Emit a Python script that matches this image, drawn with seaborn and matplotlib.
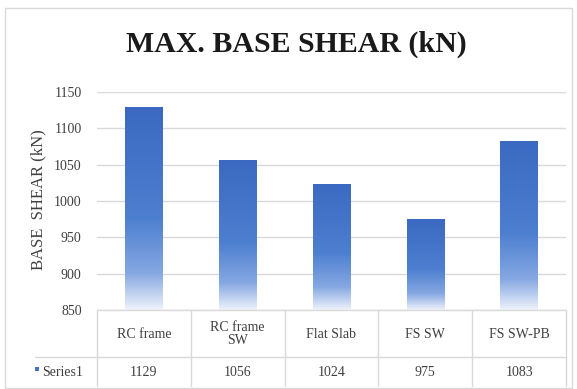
import numpy as np
import pandas as pd
import matplotlib
matplotlib.use("Agg")
import matplotlib.pyplot as plt
import matplotlib.transforms as mtransforms
from matplotlib.colors import LinearSegmentedColormap
from matplotlib.patches import Rectangle
import seaborn as sns

# Data
categories = ["RC frame", "RC frame\nSW", "Flat Slab", "FS SW", "FS SW-PB"]
series_name = "Series1"
base_shear = [1129, 1056, 1024, 975, 1083]
y_ticks = [850, 900, 950, 1000, 1050, 1100, 1150]

sns.set_theme(style="white")
plt.rcParams["font.family"] = ["Liberation Serif", "DejaVu Serif"]

W, H = 577, 389
fig = plt.figure(figsize=(W / 100, H / 100), dpi=100)

# outer chart border
fig.patches.append(Rectangle((5 / W, 1 - 388 / H), 567 / W, 380 / H,
                             transform=fig.transFigure, fill=False,
                             edgecolor="#d9d9d9", linewidth=1.0))

left, right, top, bottom = 97, 566, 92, 310
ax = fig.add_axes([left / W, 1 - bottom / H, (right - left) / W, (bottom - top) / H])

df = pd.DataFrame({"category": categories, "value": base_shear})
sns.barplot(data=df, x="category", y="value", ax=ax, width=0.4,
            color="#4472c4", saturation=1)

ax.set_ylim(850, 1150)
ax.set_xlim(-0.5, len(categories) - 0.5)
ax.set_yticks(y_ticks)
ax.set_yticklabels([str(t) for t in y_ticks], fontsize=10, color="#404040")
ax.tick_params(axis="y", length=0, pad=11)
ax.set_xticks([])
ax.set_xlabel("")
ax.set_ylabel("")
for s in ax.spines.values():
    s.set_visible(False)
ax.yaxis.grid(True, color="#d9d9d9", linewidth=1.0)
ax.set_axisbelow(True)

fig.text(38 / W, 1 - 200 / H, "BASE  SHEAR (kN)", rotation=90, ha="center",
         va="center", fontsize=12, color="#404040")

# vertical gradient fill for each bar
cmap = LinearSegmentedColormap.from_list(
    "bar_grad",
    [(0.0, "#3b69c1"), (0.55, "#4d7fd0"), (0.82, "#86a8e2"), (1.0, "#eef2fb")])
grad = np.linspace(0, 1, 256).reshape(-1, 1)
for patch in ax.patches:
    x0, y0 = patch.get_x(), patch.get_y()
    w, h = patch.get_width(), patch.get_height()
    patch.set_facecolor("none")
    patch.set_edgecolor("none")
    im = ax.imshow(grad, cmap=cmap, aspect="auto", origin="upper",
                   extent=[x0, x0 + w, 850, y0 + h], zorder=2)
    im.set_clip_path(Rectangle((x0, 850), w, y0 + h - 850, transform=ax.transData))
ax.set_ylim(850, 1150)
ax.set_xlim(-0.5, len(categories) - 0.5)

title_font = {"family": ["Liberation Serif", "DejaVu Serif"], "weight": "bold"}
fig.text(296 / W, 1 - 44 / H, "MAX. BASE SHEAR (kN)", ha="center", va="center",
         fontsize=21.5, color="#1a1a1a", fontdict=title_font)

# data table below the plot
blend = mtransforms.blended_transform_factory(ax.transData, fig.transFigure)
fy = lambda py: 1 - py / H
row1_top, row2_top, table_bot = 310, 357, 386
line_kw = dict(color="#d9d9d9", linewidth=1.0, clip_on=False)
n = len(categories)
# horizontal rules
fig.add_artist(plt.Line2D([left / W, right / W], [fy(row1_top)] * 2,
                          transform=fig.transFigure, **line_kw))
fig.add_artist(plt.Line2D([35 / W, right / W], [fy(row2_top)] * 2,
                          transform=fig.transFigure, **line_kw))
# vertical rules
for i in range(n + 1):
    xb = i - 0.5
    fig.add_artist(plt.Line2D([xb, xb], [fy(row1_top), fy(table_bot)],
                              transform=blend, **line_kw))

for i, (cat, val) in enumerate(zip(categories, base_shear)):
    fig.text(i, fy(334), cat, transform=blend, ha="center", va="center",
             fontsize=10, color="#404040", linespacing=0.95)
    fig.text(i, fy(372), str(val), transform=blend, ha="center", va="center",
             fontsize=10, color="#404040")

# legend key and series label
fig.patches.append(Rectangle((35 / W, fy(371)), 4 / W, 4 / H,
                             transform=fig.transFigure, facecolor="#4472c4",
                             edgecolor="none"))
fig.text(42 / W, fy(372), series_name, ha="left", va="center",
         fontsize=10, color="#404040")

fig.savefig("out.png", dpi=100)
